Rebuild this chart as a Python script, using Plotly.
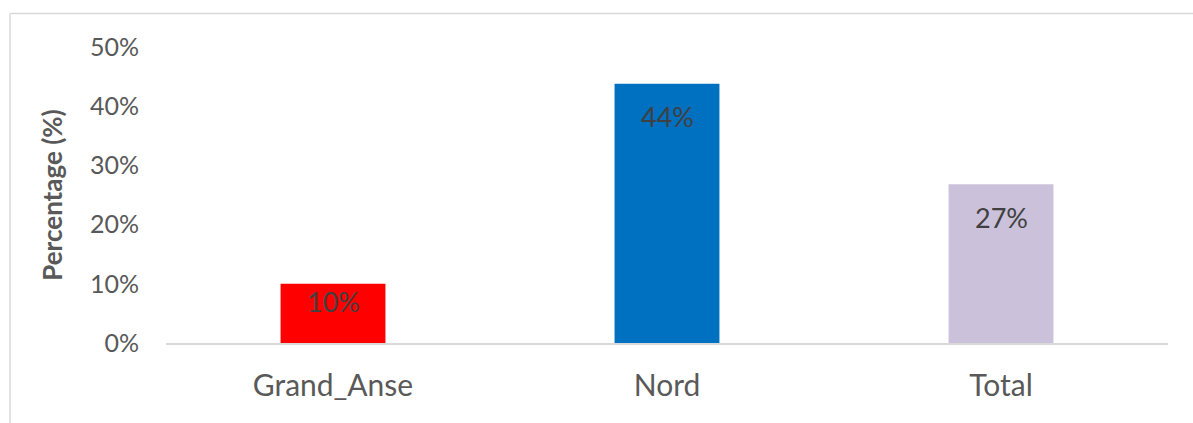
import plotly.graph_objects as go

categories = ["Grand_Anse", "Nord", "Total"]
values = [0.10, 0.438, 0.268]
labels = ["10%", "44%", "27%"]
colors = ["#FF0000", "#0070C0", "#CBC1DA"]
tick_vals = [0, 0.1, 0.2, 0.3, 0.4, 0.5]
tick_text = ["0%", "10%", "20%", "30%", "40%", "50%"]

W, H = 1193, 423
L, R, T, B = 166, 25, 47, 80
pw = W - L - R
ph = H - T - B

fig = go.Figure()
fig.add_trace(go.Bar(
    x=categories, y=values, marker=dict(color=colors, line=dict(width=0)),
    width=0.314, hoverinfo="skip",
))

for c, v, lab in zip(categories, values, labels):
    fig.add_annotation(
        x=c, y=v, text=lab, showarrow=False, yanchor="middle",
        yshift=-33 if v > 0.15 else -18,
        font=dict(family="Lato", size=27, color="#404040"),
    )

# chart frame
fig.add_shape(type="line", xref="paper", yref="paper",
              x0=(10 - L) / pw, x1=(W + 5 - L) / pw,
              y0=(H - B - 13.5) / ph, y1=(H - B - 13.5) / ph,
              line=dict(color="#D9D9D9", width=1.5))
fig.add_shape(type="line", xref="paper", yref="paper",
              x0=(10 - L) / pw, x1=(10 - L) / pw,
              y0=(H - B - 13.5) / ph, y1=(H - B - H - 5) / ph,
              line=dict(color="#D9D9D9", width=1.5))

fig.update_layout(
    width=W, height=H,
    margin=dict(l=L, r=R, t=T, b=B),
    paper_bgcolor="white", plot_bgcolor="white",
    showlegend=False,
    bargap=0.686,
    font=dict(family="Lato", color="#595959"),
)
fig.update_xaxes(
    showgrid=False, showline=True, linecolor="#D9D9D9", linewidth=2,
    ticks="", tickfont=dict(family="Lato", size=30, color="#595959"),
    ticklabelstandoff=15,
)
fig.update_yaxes(
    range=[0, 0.5], tickvals=tick_vals, ticktext=tick_text,
    showgrid=False, showline=False, zeroline=False, ticks="",
    tickfont=dict(family="Lato", size=25, color="#595959"),
    ticklabelstandoff=26,
    title=dict(text="<b>Percentage (%)</b>", standoff=19,
               font=dict(family="Lato", size=26, color="#595959")),
)

fig.write_html("out.html", config={"displayModeBar": False},
               post_script="document.body.style.margin='0';document.body.style.padding='0';")
